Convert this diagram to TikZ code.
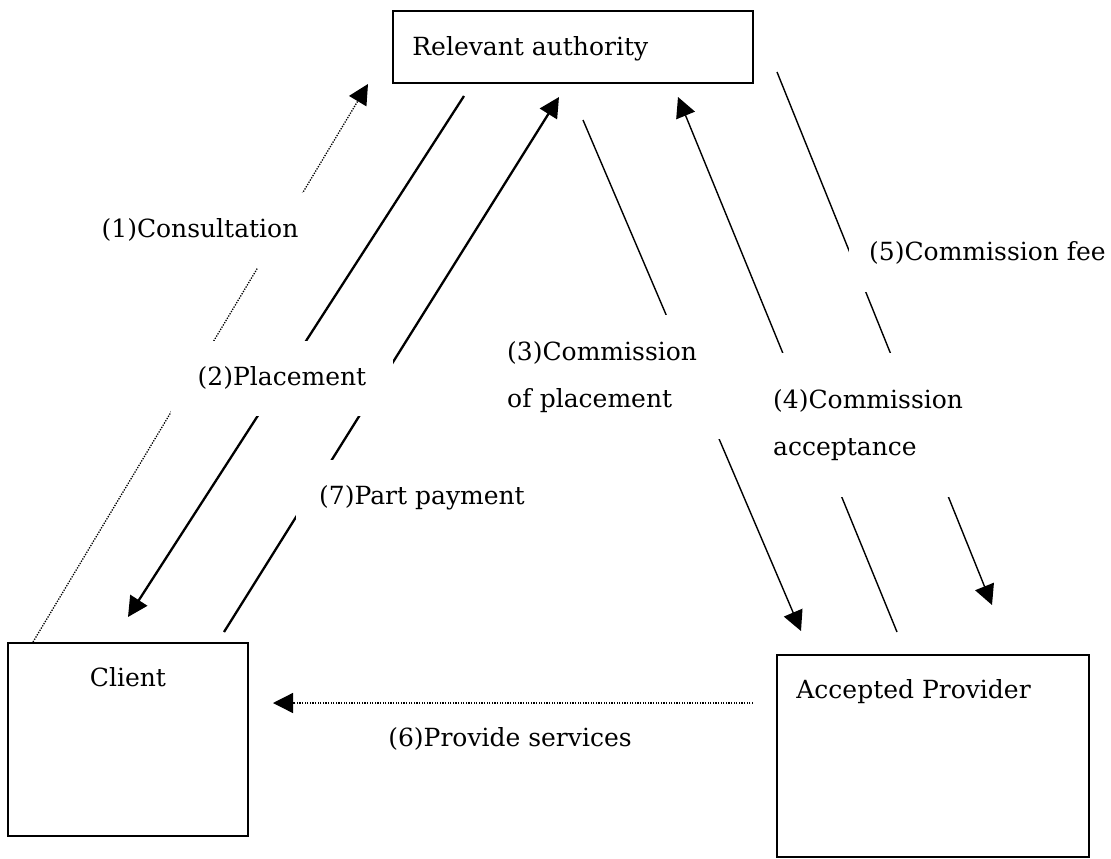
\documentclass[tikz,border=0pt]{standalone}
\usepackage{fontspec}
\setmainfont{DejaVu Serif}
\usepackage{tikz}
\usetikzlibrary{calc, arrows.meta, positioning}
\tikzstyle{cadre} = [rectangle, draw=black, line width=1.6pt]
\tikzstyle{texte} = [font=\fontsize{25}{47}\selectfont, inner sep=0pt]
\tikzstyle{legende} = [fill=white, font=\fontsize{25}{47}\selectfont, align=left]
\tikzstyle{fleche} = [->, line width=1.4pt]
\tikzstyle{epaisse} = [->, line width=2.3pt]
\tikzstyle{pointille} = [->, line width=1.3pt, dash pattern=on 1.3pt off 1.3pt]
\tikzset{>={Triangle[length=20pt, width=20pt]}}

\begin{document}
\begin{tikzpicture}[x=1pt, y=-1pt]

        \useasboundingbox (0,0) rectangle (1111,859);

        \node (auth)   [cadre, minimum width=360pt, minimum height=72pt,
                        label={[texte, anchor=north west, xshift=20pt, yshift=-26pt]north west:Relevant authority}] at (573,47) {};
        \node (client) [cadre, minimum width=240pt, minimum height=193pt,
                        label={[texte, anchor=north, yshift=-25pt]north:Client}] at (128,739.5) {};
        \node (prov)   [cadre, minimum width=312pt, minimum height=202pt,
                        label={[texte, anchor=north west, xshift=20pt, yshift=-25pt]north west:Accepted Provider}] at (933,756) {};

        \coordinate (consult-a) at (33,642);
        \coordinate (consult-b) at (368,84);
        \coordinate (place-a)   at (464,96);
        \coordinate (place-b)   at (128,617);
        \coordinate (pay-a)     at (224,632);
        \coordinate (pay-b)     at (559,97);
        \coordinate (comm-a)    at (583,120);
        \coordinate (comm-b)    at (801,631);
        \coordinate (accept-a)  at (897,632);
        \coordinate (accept-b)  at (678,97);
        \coordinate (fee-a)     at (777,72);
        \coordinate (fee-b)     at (992,605);
        \coordinate (serv-a)    at (753,703);
        \coordinate (serv-b)    at (273,703);

        \draw [pointille] (consult-a) -- (consult-b);
        \draw [epaisse]   (place-a) -- (place-b);
        \draw [epaisse]   (pay-a) -- (pay-b);
        \draw [fleche]    (comm-a) -- (comm-b);
        \draw [fleche]    (accept-a) -- (accept-b);
        \draw [fleche]    (fee-a) -- (fee-b);
        \draw [pointille] (serv-a) -- (serv-b);

        \node (consult) [legende, minimum width=240pt, minimum height=75pt] at (200,230) {(1)Consultation};
        \node (place)   [legende, minimum width=222pt, minimum height=75pt] at (282,378) {(2)Placement};
        \node (comm)    [legende, anchor=west, text width=201pt, inner xsep=17pt, minimum height=124pt] at (490,377) {(3)Commission\\of placement};
        \node (accept)  [legende, anchor=west, text width=200pt, inner xsep=13pt, minimum height=144pt] at (760,425) {(4)Commission\\acceptance};
        \node (fee)     [legende, anchor=west, inner xsep=20pt, minimum height=78pt] at (849,253) {(5)Commission fee};
        \node (serv)    [legende] at (510,739) {(6)Provide services};
        \node (pay)     [legende, minimum width=253pt, minimum height=77pt] at (422,498) {(7)Part payment};

    \end{tikzpicture}
\end{document}
